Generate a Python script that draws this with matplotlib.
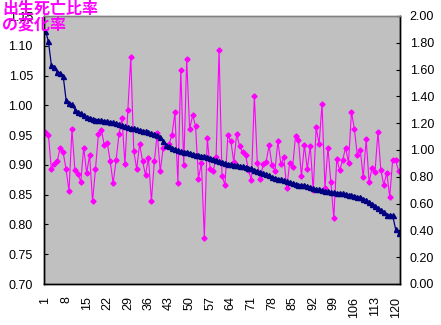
import numpy as np
import matplotlib.pyplot as plt
from matplotlib.ticker import FormatStrFormatter

plt.rcParams['font.family'] = ['Liberation Sans', 'DejaVu Sans']

# 出生死亡比率の変化率（左軸）
rate = [
    0.956, 0.950, 0.893, 0.901, 0.906, 0.929, 0.921, 0.893, 0.856, 0.960,
    0.891, 0.885, 0.872, 0.929, 0.886, 0.917, 0.839, 0.893, 0.952, 0.959,
    0.933, 0.937, 0.906, 0.869, 0.908, 0.952, 0.979, 0.901, 0.992, 1.081,
    0.924, 0.893, 0.935, 0.906, 0.883, 0.912, 0.839, 0.906, 0.953, 0.889,
    0.928, 0.932, 0.935, 0.950, 0.988, 0.870, 1.059, 0.899, 1.077, 0.960,
    0.983, 0.966, 0.877, 0.903, 0.778, 0.945, 0.893, 0.889, 0.914, 1.093,
    0.882, 0.866, 0.950, 0.940, 0.905, 0.952, 0.931, 0.921, 0.917, 0.891,
    0.874, 1.016, 0.904, 0.876, 0.901, 0.905, 0.933, 0.899, 0.890, 0.940,
    0.901, 0.913, 0.861, 0.903, 0.897, 0.949, 0.941, 0.881, 0.933, 0.893,
    0.932, 0.857, 0.963, 0.935, 1.002, 0.861, 0.929, 0.871, 0.811, 0.910,
    0.891, 0.908, 0.929, 0.904, 0.989, 0.960, 0.916, 0.925, 0.879, 0.943,
    0.871, 0.895, 0.888, 0.955, 0.891, 0.866, 0.887, 0.846, 0.908, 0.908,
    0.890,
]

# 出生死亡比率（右軸、降順）
ratio = [
    1.890, 1.810, 1.635, 1.620, 1.585, 1.575, 1.555, 1.375, 1.350, 1.340,
    1.300, 1.287, 1.275, 1.258, 1.250, 1.242, 1.232, 1.227, 1.224, 1.221,
    1.218, 1.214, 1.210, 1.206, 1.202, 1.192, 1.184, 1.176, 1.171, 1.166,
    1.161, 1.155, 1.150, 1.145, 1.139, 1.133, 1.125, 1.119, 1.112, 1.100,
    1.070, 1.040, 1.028, 1.018, 1.008, 1.000, 0.990, 0.988, 0.986, 0.980,
    0.972, 0.966, 0.962, 0.958, 0.955, 0.950, 0.940, 0.934, 0.926, 0.920,
    0.912, 0.903, 0.898, 0.893, 0.889, 0.886, 0.882, 0.878, 0.875, 0.868,
    0.862, 0.853, 0.845, 0.837, 0.828, 0.818, 0.810, 0.800, 0.792, 0.785,
    0.780, 0.774, 0.768, 0.763, 0.753, 0.748, 0.740, 0.739, 0.738, 0.730,
    0.722, 0.715, 0.710, 0.706, 0.701, 0.697, 0.692, 0.687, 0.684, 0.682,
    0.681, 0.676, 0.671, 0.666, 0.662, 0.657, 0.652, 0.646, 0.636, 0.626,
    0.614, 0.600, 0.585, 0.568, 0.555, 0.540, 0.515, 0.514, 0.512, 0.410,
    0.380,
]

x = np.arange(1, len(rate) + 1)
xticks = list(range(1, 121, 7))
left_ticks = [0.70, 0.75, 0.80, 0.85, 0.90, 0.95, 1.00, 1.05, 1.10, 1.15]
right_ticks = [0.0, 0.2, 0.4, 0.6, 0.8, 1.0, 1.2, 1.4, 1.6, 1.8, 2.0]

fig = plt.figure(figsize=(4.41, 3.25), dpi=100)
ax = fig.add_axes([44/441, 41/325, 356/441, 268/325])
ax.set_facecolor('#C0C0C0')
ax2 = ax.twinx()

ax.plot(x, rate, color='#FF00FF', lw=0.8, marker='D', ms=2.6,
        mfc='#FF00FF', mec='#FF00FF')
ax2.plot(x, ratio, color='#000080', lw=0.9, marker='^', ms=3.6,
         mfc='#000080', mec='#000080')

ax.set_xlim(0.5, len(rate) + 0.5)
ax.set_ylim(0.70, 1.15)
ax2.set_ylim(0, 2.0)

ax.set_xticks(xticks)
ax.set_xticklabels([str(t) for t in xticks], rotation=90, fontsize=9)
ax.set_yticks(left_ticks)
ax2.set_yticks(right_ticks)
ax.yaxis.set_major_formatter(FormatStrFormatter('%.2f'))
ax2.yaxis.set_major_formatter(FormatStrFormatter('%.2f'))

ax.tick_params(axis='x', length=0, pad=9)
ax.tick_params(axis='y', direction='in', length=3, labelsize=9, pad=8)
ax2.tick_params(axis='y', direction='in', length=3, labelsize=9, pad=7)

for a in (ax, ax2):
    for s in ('left', 'bottom', 'right'):
        a.spines[s].set_color('black')
        a.spines[s].set_linewidth(1)
    a.spines['top'].set_color('#808080')
    a.spines['top'].set_linewidth(1)

fig.text(2/441, 1 - 1/325, '出生死亡比率\nの変化率', color='#FF00FF',
         fontsize=11.5, fontweight='bold', family=['Noto Sans CJK JP', 'DejaVu Sans'],
         ha='left', va='top', linespacing=0.95, zorder=10)

fig.savefig('out.png', dpi=100)
